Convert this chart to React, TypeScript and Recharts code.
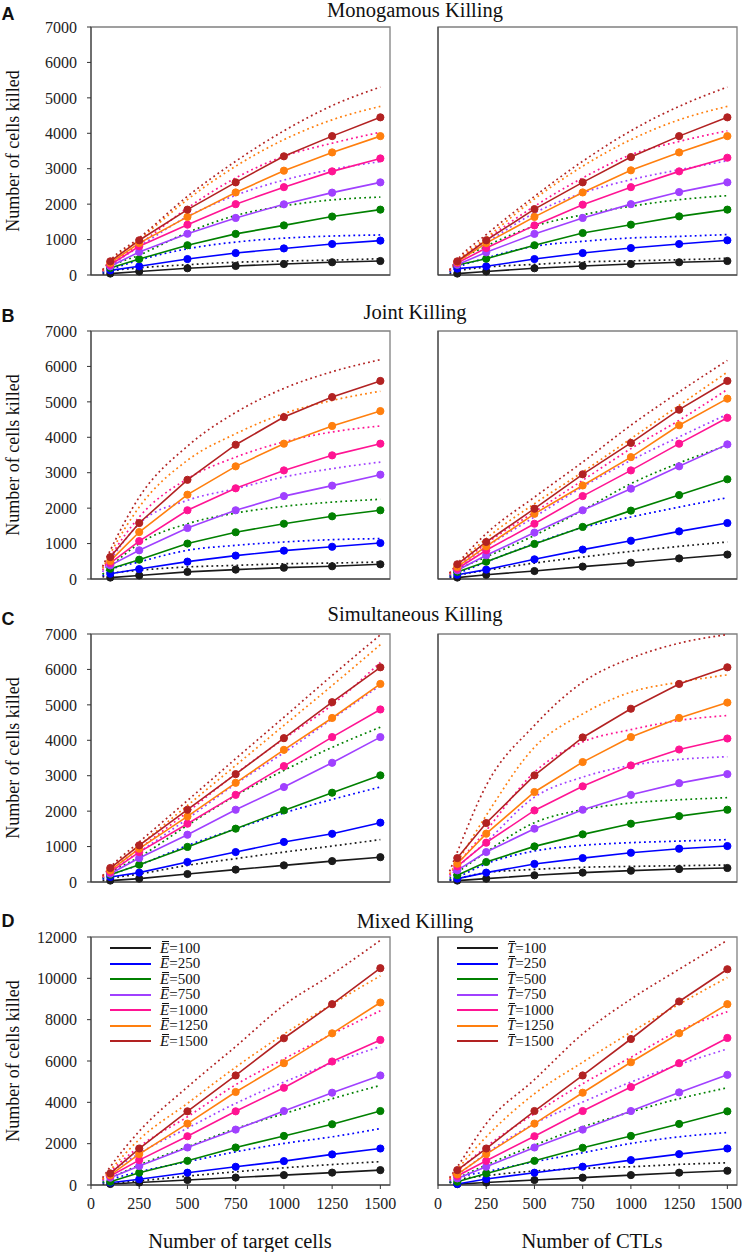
import { LineChart, Line, XAxis, YAxis, ReferenceArea } from 'recharts'

const simX = [100, 250, 500, 750, 1000, 1250, 1500]
const theoryX = [60, 100, 250, 500, 750, 1000, 1250, 1500]
const xTicks = [0, 250, 500, 750, 1000, 1250, 1500]
const levels = [100, 250, 500, 750, 1000, 1250, 1500]
const colors = ['#1a1a1a', '#0000ff', '#008000', '#a040ff', '#ff1493', '#ff7f0e', '#b22222']
const ticks7k = [0, 1000, 2000, 3000, 4000, 5000, 6000, 7000]
const ticks12k = [0, 2000, 4000, 6000, 8000, 10000, 12000]

// A: monogamous killing
const monoTargetSim = [
  [40, 100, 190, 255, 310, 360, 395],
  [130, 245, 450, 620, 750, 875, 970],
  [200, 450, 840, 1160, 1400, 1650, 1845],
  [245, 650, 1165, 1610, 1995, 2325, 2615],
  [290, 810, 1420, 2000, 2480, 2925, 3290],
  [340, 900, 1640, 2330, 2945, 3460, 3920],
  [385, 980, 1845, 2615, 3350, 3920, 4450],
]
const monoTargetTheory = [
  [20, 100, 200, 290, 360, 395, 420, 460],
  [60, 150, 420, 740, 930, 1040, 1100, 1130],
  [80, 230, 560, 1200, 1680, 1950, 2120, 2200],
  [100, 260, 800, 1650, 2250, 2680, 2980, 3200],
  [110, 290, 860, 1890, 2740, 3350, 3720, 4030],
  [130, 370, 1000, 2130, 3070, 3820, 4380, 4760],
  [150, 415, 1045, 2220, 3210, 4070, 4780, 5305],
]
const monoCtlSim = [
  [40, 100, 190, 255, 310, 360, 395],
  [180, 245, 450, 620, 760, 875, 980],
  [280, 460, 840, 1185, 1420, 1655, 1845],
  [290, 640, 1160, 1610, 2000, 2340, 2615],
  [340, 760, 1400, 1985, 2480, 2925, 3310],
  [370, 900, 1640, 2330, 2955, 3460, 3920],
  [385, 980, 1860, 2615, 3330, 3920, 4450],
]
const monoCtlTheory = [
  [30, 110, 220, 300, 370, 400, 430, 470],
  [70, 200, 480, 810, 950, 1045, 1090, 1140],
  [100, 340, 810, 1375, 1700, 1940, 2125, 2240],
  [110, 340, 900, 1750, 2315, 2690, 2970, 3225],
  [120, 370, 1000, 1940, 2740, 3395, 3770, 4070],
  [130, 385, 1045, 2145, 3070, 3820, 4380, 4760],
  [150, 430, 1140, 2220, 3210, 4070, 4760, 5305],
]

// B: joint killing
const jointTargetSim = [
  [40, 100, 200, 265, 320, 360, 415],
  [150, 280, 490, 660, 800, 910, 1015],
  [290, 545, 1000, 1320, 1560, 1770, 1940],
  [385, 810, 1440, 1940, 2340, 2635, 2945],
  [450, 1070, 1940, 2560, 3065, 3490, 3820],
  [510, 1325, 2380, 3180, 3820, 4320, 4740],
  [620, 1580, 2800, 3790, 4570, 5135, 5590],
]
const jointTargetTheory = [
  [50, 150, 245, 340, 385, 430, 450, 480],
  [90, 245, 480, 810, 950, 1045, 1110, 1140],
  [130, 340, 1000, 1560, 1860, 2050, 2170, 2250],
  [200, 530, 1560, 2220, 2550, 2880, 3115, 3300],
  [250, 620, 1750, 2830, 3440, 3870, 4150, 4320],
  [300, 715, 2030, 3350, 4100, 4670, 5040, 5300],
  [350, 810, 2310, 3750, 4700, 5380, 5850, 6190],
]
const jointCtlSim = [
  [40, 120, 225, 350, 460, 580, 690],
  [120, 265, 555, 830, 1080, 1345, 1580],
  [200, 490, 990, 1470, 1930, 2370, 2815],
  [245, 670, 1310, 1940, 2550, 3180, 3800],
  [290, 810, 1560, 2340, 3065, 3820, 4550],
  [340, 920, 1840, 2640, 3440, 4340, 5090],
  [415, 1045, 1985, 2955, 3840, 4780, 5590],
]
const jointCtlTheory = [
  [40, 100, 245, 450, 620, 780, 920, 1045],
  [60, 150, 480, 1000, 1450, 1750, 2030, 2295],
  [90, 245, 620, 1230, 1940, 2690, 3275, 3770],
  [110, 290, 900, 1750, 2600, 3350, 4010, 4650],
  [130, 340, 1000, 1890, 2785, 3680, 4480, 5350],
  [150, 385, 1140, 2125, 3020, 3960, 4900, 5840],
  [170, 430, 1280, 2310, 3300, 4340, 5280, 6170],
]

// C: simultaneous killing
const simulTargetSim = [
  [40, 95, 225, 350, 470, 590, 700],
  [140, 265, 565, 845, 1130, 1360, 1675],
  [205, 490, 990, 1505, 2020, 2520, 3010],
  [235, 675, 1335, 2040, 2680, 3365, 4090],
  [280, 845, 1645, 2460, 3270, 4090, 4870],
  [330, 940, 1850, 2800, 3730, 4630, 5590],
  [395, 1035, 2040, 3045, 4060, 5075, 6060],
]
const simulTargetTheory = [
  [40, 95, 225, 470, 660, 845, 1015, 1195],
  [80, 190, 480, 1030, 1500, 1950, 2330, 2680],
  [110, 265, 705, 1600, 2440, 3150, 3800, 4370],
  [130, 300, 845, 1785, 2770, 3650, 4600, 5550],
  [140, 330, 940, 1975, 3055, 4040, 5000, 6200],
  [160, 375, 1035, 2160, 3290, 4420, 5545, 6700],
  [180, 420, 1130, 2300, 3480, 4650, 5830, 6975],
]
const simulCtlSim = [
  [40, 95, 190, 265, 320, 365, 395],
  [95, 265, 510, 675, 825, 940, 1015],
  [190, 565, 1005, 1345, 1645, 1860, 2040],
  [330, 845, 1505, 2040, 2460, 2790, 3045],
  [440, 1110, 2020, 2700, 3290, 3740, 4050],
  [515, 1365, 2540, 3385, 4090, 4630, 5065],
  [675, 1665, 3010, 4080, 4890, 5590, 6060],
]
const simulCtlTheory = [
  [40, 95, 265, 355, 415, 440, 460, 480],
  [60, 140, 515, 875, 1035, 1110, 1155, 1195],
  [100, 265, 845, 1675, 2040, 2230, 2320, 2380],
  [150, 395, 1130, 2395, 2960, 3290, 3460, 3535],
  [200, 490, 1455, 3100, 3950, 4300, 4560, 4700],
  [230, 565, 1880, 3805, 4745, 5360, 5640, 5845],
  [300, 845, 2725, 4420, 5640, 6315, 6740, 6985],
]

// D: mixed killing
const mixedTargetSim = [
  [48, 120, 240, 360, 480, 600, 720],
  [110, 275, 595, 880, 1155, 1480, 1765],
  [160, 595, 1170, 1815, 2375, 2940, 3580],
  [355, 915, 1815, 2680, 3580, 4465, 5300],
  [435, 1205, 2360, 3565, 4705, 5975, 7020],
  [480, 1495, 2970, 4500, 5895, 7340, 8830],
  [560, 1765, 3565, 5300, 7100, 8750, 10490],
]
const mixedTargetTheory = [
  [40, 80, 200, 430, 640, 830, 990, 1130],
  [100, 250, 640, 1125, 1605, 2010, 2330, 2730],
  [130, 320, 965, 1850, 2730, 3450, 4175, 4820],
  [200, 560, 1525, 2750, 3950, 4980, 5900, 6700],
  [250, 640, 1850, 3300, 4850, 6100, 7300, 8430],
  [280, 720, 2200, 3950, 5700, 7300, 8750, 10120],
  [350, 880, 2600, 4740, 6700, 8700, 10200, 11840],
]
const mixedCtlSim = [
  [40, 120, 240, 355, 480, 595, 690],
  [50, 290, 595, 885, 1205, 1495, 1765],
  [160, 560, 1170, 1800, 2375, 2955, 3565],
  [320, 885, 1815, 2680, 3580, 4480, 5330],
  [435, 1170, 2360, 3580, 4740, 5895, 7115],
  [515, 1495, 2970, 4465, 5940, 7340, 8750],
  [720, 1765, 3580, 5300, 7065, 8880, 10440],
]
const mixedCtlTheory = [
  [100, 240, 450, 675, 800, 885, 995, 1075],
  [120, 320, 640, 1125, 1560, 2010, 2330, 2540],
  [130, 320, 965, 1925, 2810, 3535, 4175, 4705],
  [200, 480, 1525, 2970, 4015, 4980, 5830, 6585],
  [250, 640, 1845, 3450, 4900, 6180, 7470, 8385],
  [300, 755, 2330, 4415, 5940, 7390, 8750, 10040],
  [350, 880, 2970, 5100, 7310, 8995, 10440, 11840],
]

const SERIF = '"Liberation Serif", "Times New Roman", serif'
const PLOT_H = 248
const X_MAX = 1550
const TICK_FS = 16

interface TickProps {
  x?: number
  y?: number
  payload?: { value: number }
}

function YTick({ x = 0, y = 0, payload }: TickProps) {
  return (
    <text x={x} y={y} dy="0.36em" textAnchor="end" fontSize={TICK_FS} fontFamily={SERIF} fill="#222">
      {payload?.value}
    </text>
  )
}

function XTick({ x = 0, y = 0, payload }: TickProps) {
  return (
    <text x={x} y={y} dy="0.72em" textAnchor="middle" fontSize={TICK_FS} fontFamily={SERIF} fill="#222">
      {payload?.value}
    </text>
  )
}

interface PanelProps {
  sim: number[][]
  theory: number[][]
  yMax: number
  yTicks: number[]
  left: number
  plotTop: number
  width: number
  axisWidth: number
  marginRight: number
  showX: boolean
  showY: boolean
}

function Panel({ sim, theory, yMax, yTicks, left, plotTop, width, axisWidth, marginRight, showX, showY }: PanelProps) {
  const xh = showX ? 34 : 20
  const mt = 27
  return (
    <div style={{ position: 'absolute', left, top: plotTop - mt }}>
      <LineChart width={width} height={mt + PLOT_H + xh} margin={{ top: mt, right: marginRight, bottom: 0, left: 0 }}>
        <XAxis
          dataKey="x"
          type="number"
          domain={[0, X_MAX]}
          ticks={xTicks}
          height={xh}
          tickSize={4}
          tickMargin={8}
          tick={showX ? <XTick /> : false}
          tickLine={{ stroke: '#333' }}
          axisLine={{ stroke: '#333' }}
        />
        <YAxis
          type="number"
          domain={[0, yMax]}
          ticks={yTicks}
          width={axisWidth}
          tickSize={4}
          tickMargin={10}
          tick={showY ? <YTick /> : false}
          tickLine={{ stroke: '#333' }}
          axisLine={{ stroke: '#333' }}
        />
        <ReferenceArea x1={0} x2={X_MAX} y1={0} y2={yMax} fill="none" stroke="#808080" strokeWidth={1.3} />
        {theory.map((vals, i) => (
          <Line
            key={`t${i}`}
            data={theoryX.map((x, j) => ({ x, y: vals[j] }))}
            dataKey="y"
            type="monotone"
            stroke={colors[i]}
            strokeWidth={1.7}
            strokeDasharray="1.8 3.2"
            dot={false}
            isAnimationActive={false}
          />
        ))}
        {sim.map((vals, i) => (
          <Line
            key={`s${i}`}
            data={simX.map((x, j) => ({ x, y: vals[j] }))}
            dataKey="y"
            type="linear"
            stroke={colors[i]}
            strokeWidth={1.6}
            dot={{ r: 3.6, fill: colors[i], stroke: colors[i], strokeWidth: 1 }}
            isAnimationActive={false}
          />
        ))}
      </LineChart>
    </div>
  )
}

function LegendBox({ left, top, letter }: { left: number; top: number; letter: string }) {
  return (
    <div style={{ position: 'absolute', left, top }}>
      {levels.map((lv, i) => (
        <div key={lv} style={{ position: 'absolute', left: 0, top: i * 15.5, height: 15, display: 'flex', alignItems: 'center' }}>
          <div style={{ width: 41, height: 2, background: colors[i] }} />
          <div style={{ marginLeft: 9, fontSize: 15, lineHeight: '15px', fontFamily: SERIF, whiteSpace: 'nowrap', color: '#111' }}>
            <span style={{ position: 'relative', fontStyle: 'italic' }}>
              <span style={{ position: 'absolute', left: 2, right: 0, top: 1, height: 1, background: '#111' }} />
              {letter}
            </span>
            ={lv}
          </div>
        </div>
      ))}
    </div>
  )
}

const panels = [
  { title: 'Monogamous Killing', letter: 'A', plotTop: 27, titleY: 10, letterY: 14, left: monoTargetSim, leftT: monoTargetTheory, right: monoCtlSim, rightT: monoCtlTheory, yMax: 7000, yTicks: ticks7k },
  { title: 'Joint Killing', letter: 'B', plotTop: 331, titleY: 312, letterY: 316, left: jointTargetSim, leftT: jointTargetTheory, right: jointCtlSim, rightT: jointCtlTheory, yMax: 7000, yTicks: ticks7k },
  { title: 'Simultaneous Killing', letter: 'C', plotTop: 633.5, titleY: 614, letterY: 619, left: simulTargetSim, leftT: simulTargetTheory, right: simulCtlSim, rightT: simulCtlTheory, yMax: 7000, yTicks: ticks7k },
  { title: 'Mixed Killing', letter: 'D', plotTop: 937, titleY: 921, letterY: 921, left: mixedTargetSim, leftT: mixedTargetTheory, right: mixedCtlSim, rightT: mixedCtlTheory, yMax: 12000, yTicks: ticks12k },
]

export default function App() {
  return (
    <div style={{ position: 'absolute', left: 0, top: 0, width: 742, height: 1252, background: '#fff', fontFamily: SERIF, color: '#111', overflow: 'hidden' }}>
      {panels.map((p, k) => (
        <div key={p.letter}>
          <div style={{ position: 'absolute', left: 8, top: p.letterY, transform: 'translate(-50%, -50%)', fontFamily: '"Liberation Sans", Arial, sans-serif', fontWeight: 700, fontSize: 18, lineHeight: 1 }}>
            {p.letter}
          </div>
          <div style={{ position: 'absolute', left: 415, top: p.titleY, transform: 'translate(-50%, -50%)', fontSize: 20.5, lineHeight: 1, whiteSpace: 'nowrap' }}>
            {p.title}
          </div>
          <div style={{ position: 'absolute', left: 13, top: p.plotTop + PLOT_H / 2, transform: 'translate(-50%, -50%) rotate(-90deg)', fontSize: 18, lineHeight: 1, whiteSpace: 'nowrap' }}>
            Number of cells killed
          </div>
          <Panel sim={p.left} theory={p.leftT} yMax={p.yMax} yTicks={p.yTicks} left={0} plotTop={p.plotTop} width={400} axisWidth={91} marginRight={10} showX={k === 3} showY />
          <Panel sim={p.right} theory={p.rightT} yMax={p.yMax} yTicks={p.yTicks} left={370} plotTop={p.plotTop} width={372} axisWidth={68} marginRight={5} showX={k === 3} showY={false} />
        </div>
      ))}
      <LegendBox left={110} top={940.5} letter="E" />
      <LegendBox left={457} top={940.5} letter="T" />
      <div style={{ position: 'absolute', left: 240, top: 1241, transform: 'translate(-50%, -50%)', fontSize: 20.5, lineHeight: 1, whiteSpace: 'nowrap' }}>
        Number of target cells
      </div>
      <div style={{ position: 'absolute', left: 592, top: 1241, transform: 'translate(-50%, -50%)', fontSize: 20.5, lineHeight: 1, whiteSpace: 'nowrap' }}>
        Number of CTLs
      </div>
    </div>
  )
}
